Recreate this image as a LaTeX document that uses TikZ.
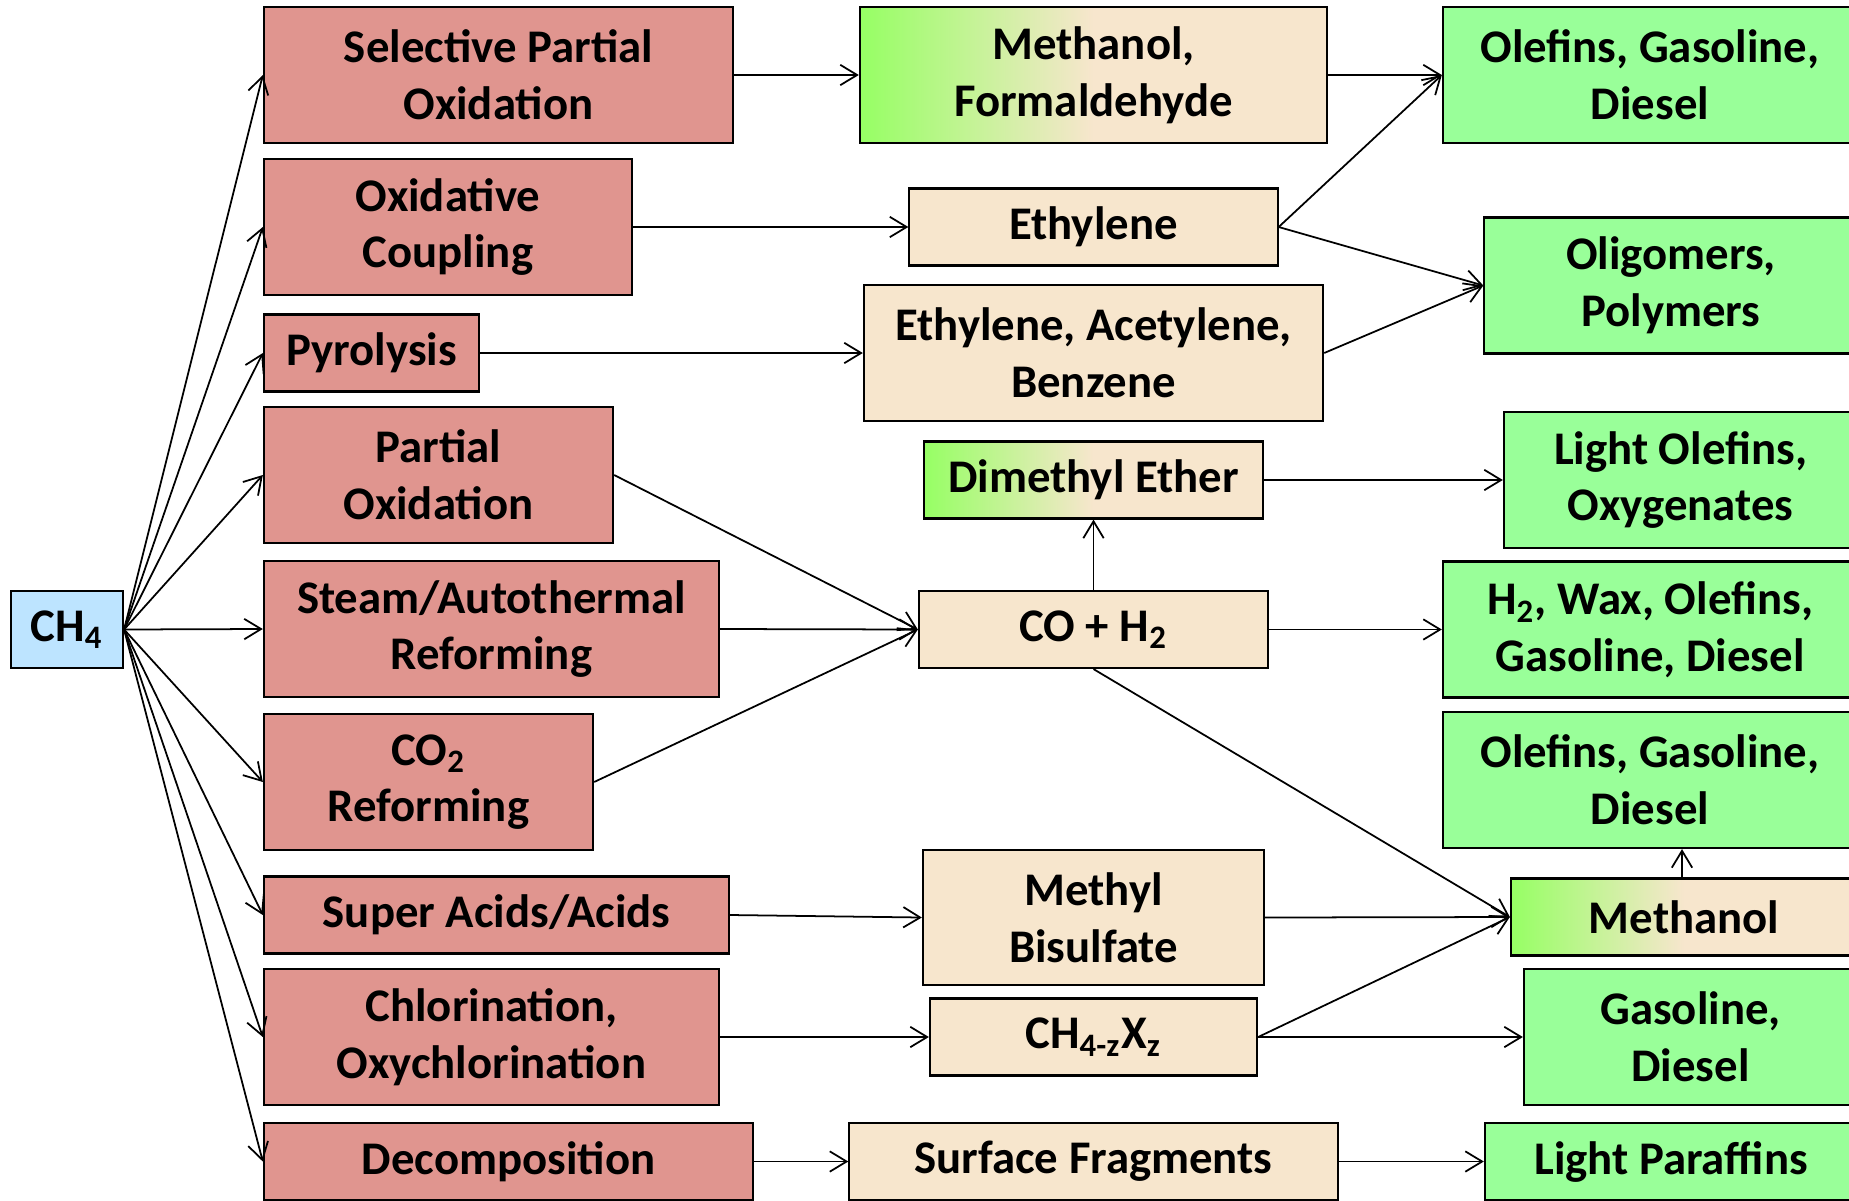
\documentclass[tikz,border=0pt]{standalone}
\usepackage{fontspec}
\setmainfont{Carlito}
\usetikzlibrary{arrows.meta}
\definecolor{procred}{RGB}{224,149,143}
\definecolor{midcream}{RGB}{247,230,205}
\definecolor{prodgreen}{RGB}{153,255,153}
\definecolor{feedblue}{RGB}{189,228,255}
\definecolor{startgreen}{RGB}{150,255,100}
\pgfdeclarehorizontalshading{greencream}{100bp}{color(0bp)=(startgreen); color(25bp)=(startgreen); color(50bp)=(midcream); color(100bp)=(midcream)}
\tikzset{
  box/.style={draw, line width=0.6pt, align=center, inner sep=0pt, font=\fontsize{13.3}{16.1}\selectfont\bfseries},
  oneline/.style={box, minimum height=0.77cm},
  twoline/.style={box, minimum height=1.36cm},
  proc/.style={fill=procred},
  inter/.style={fill=midcream},
  prod/.style={fill=prodgreen},
  mixed/.style={shading=greencream},
  >={Straight Barb[length=4.8pt,width=5.8pt]},
}
\begin{document}
\begin{tikzpicture}[x=0.01cm, y=-0.01cm, line width=0.5pt]
    \useasboundingbox (0, 0) rectangle (1849, 1200);

    % feed
    \node[oneline, fill=feedblue, minimum width=1.12cm] (ch4) at (67, 629.5) {CH\textsubscript{4}};

    % processes
    \node[twoline, proc, minimum width=4.69cm] (spo) at (498.5, 75) {Selective Partial\\Oxidation};
    \node[twoline, proc, minimum width=3.68cm] (ocp) at (448, 227) {Oxidative\\Coupling};
    \node[oneline, proc, minimum width=2.15cm] (pyr) at (371.5, 353) {Pyrolysis};
    \node[twoline, proc, minimum width=3.49cm] (pox) at (438.5, 475) {Partial\\Oxidation};
    \node[twoline, proc, minimum width=4.55cm] (sar) at (491.5, 629) {Steam/Autothermal\\Reforming};
    \node[twoline, proc, minimum width=3.29cm] (co2r) at (428.5, 782) {CO\textsubscript{2}\\Reforming};
    \node[oneline, proc, minimum width=4.65cm] (sac) at (496.5, 915) {Super Acids/Acids};
    \node[twoline, proc, minimum width=4.55cm] (chl) at (491.5, 1037) {Chlorination,\\Oxychlorination};
    \node[oneline, proc, minimum width=4.89cm] (dec) at (508.5, 1161.5) {Decomposition};

    % intermediates
    \node[twoline, mixed, minimum width=4.67cm] (mf) at (1093.5, 75) {Methanol,\\Formaldehyde};
    \node[oneline, inter, minimum width=3.68cm] (eth) at (1093.5, 227) {Ethylene};
    \node[twoline, inter, minimum width=4.59cm] (eab) at (1093.5, 353) {Ethylene, Acetylene,\\Benzene};
    \node[oneline, mixed, minimum width=3.39cm] (dme) at (1093.5, 480) {Dimethyl Ether};
    \node[oneline, inter, minimum width=3.49cm] (syn) at (1093.5, 629.5) {CO + H\textsubscript{2}};
    \node[twoline, inter, minimum width=3.41cm, minimum height=1.35cm] (mbs) at (1093.5, 917.5) {Methyl\\Bisulfate};
    \node[oneline, inter, minimum width=3.27cm] (hal) at (1093.5, 1037) {CH\textsubscript{4-z}X\textsubscript{z}};
    \node[oneline, inter, minimum width=4.88cm] (sfr) at (1093.5, 1161.5) {Surface Fragments};

    % products
    \node[twoline, prod, minimum width=4.14cm] (ogd1) at (1650, 75) {Olefins, Gasoline,\\Diesel};
    \node[twoline, prod, minimum width=3.73cm] (olp) at (1671, 285.5) {Oligomers,\\Polymers};
    \node[twoline, prod, minimum width=3.53cm] (lox) at (1680.5, 480) {Light Olefins,\\Oxygenates};
    \node[twoline, prod, minimum width=4.14cm] (hwo) at (1650, 629.5) {H\textsubscript{2}, Wax, Olefins,\\Gasoline, Diesel};
    \node[twoline, prod, minimum width=4.14cm] (ogd2) at (1650, 780) {Olefins, Gasoline,\\Diesel};
    \node[oneline, mixed, minimum width=3.46cm] (meo) at (1684, 917) {Methanol};
    \node[twoline, prod, minimum width=3.33cm] (gsd) at (1690.5, 1037) {Gasoline,\\Diesel};
    \node[oneline, prod, minimum width=3.72cm] (lpa) at (1671, 1161.5) {Light Paraffins};

    % feed to processes
    \draw [->] (ch4.east) -- (spo.west);
    \draw [->] (ch4.east) -- (ocp.west);
    \draw [->] (ch4.east) -- (pyr.west);
    \draw [->] (ch4.east) -- (pox.west);
    \draw [->] (ch4.east) -- (sar.west);
    \draw [->] (ch4.east) -- (co2r.west);
    \draw [->] (ch4.east) -- (sac.west);
    \draw [->] (ch4.east) -- (chl.west);
    \draw [->] (ch4.east) -- (dec.west);

    % processes to intermediates
    \draw [->] (spo.east) -- (mf.west);
    \draw [->] (ocp.east) -- (eth.west);
    \draw [->] (pyr.east) -- (eab.west);
    \draw [->] (pox.east) -- (syn.west);
    \draw [->] (sar.east) -- (syn.west);
    \draw [->] (co2r.east) -- (syn.west);
    \draw [->] (sac.east) -- (mbs.west);
    \draw [->] (chl.east) -- (hal.west);
    \draw [->] (dec.east) -- (sfr.west);

    % intermediates to products
    \draw [->] (mf.east) -- (ogd1.west);
    \draw [->] (eth.east) -- (ogd1.west);
    \draw [->] (eth.east) -- (olp.west);
    \draw [->] (eab.east) -- (olp.west);
    \draw [->] (syn.north) -- (dme.south);
    \draw [->] (dme.east) -- (lox.west);
    \draw [->] (syn.east) -- (hwo.west);
    \draw [->] (syn.south) -- (meo.west);
    \draw [->] (mbs.east) -- (meo.west);
    \draw [->] (hal.east) -- (meo.west);
    \draw [->] (hal.east) -- (gsd.west);
    \draw [->] (meo.north -| 1682, 0) -- (1682, 0 |- ogd2.south);
    \draw [->] (sfr.east) -- (lpa.west);
\end{tikzpicture}
\end{document}
